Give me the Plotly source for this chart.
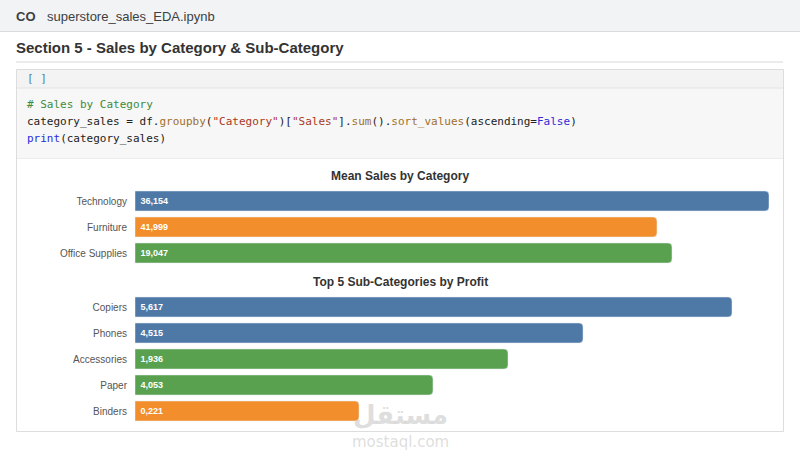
import plotly.graph_objects as go

W, H = 800, 460

# ---- data ----
categories = ["Technology", "Furniture", "Office Supplies"]
category_sales = [836154, 688400, 708200]
category_labels = ["36,154", "41,999", "19,047"]
category_colors = ["#4e79a7", "#f28e2b", "#59a14f"]

subcats = ["Copiers", "Phones", "Accessories", "Paper", "Binders"]
subcat_profit = [55617, 41740, 34750, 27760, 20870]
subcat_labels = ["5,617", "4,515", "1,936", "4,053", "0,221"]
subcat_colors = ["#4e79a7", "#4e79a7", "#59a14f", "#59a14f", "#f28e2b"]


def px(x):
    return x / W


def py(y):
    return 1 - y / H


fig = go.Figure()

fig.add_trace(go.Bar(
    x=category_sales, y=categories, orientation="h",
    marker=dict(color=category_colors, cornerradius=4),
    text=category_labels, texttemplate="&nbsp;%{text}",
    textposition="inside", insidetextanchor="start",
    textfont=dict(color="white", size=9, family="Liberation Sans, Arial", weight="bold"),
    textangle=0, xaxis="x", yaxis="y", hoverinfo="skip", showlegend=False,
))
fig.add_trace(go.Bar(
    x=subcat_profit, y=subcats, orientation="h",
    marker=dict(color=subcat_colors, cornerradius=4),
    text=subcat_labels, texttemplate="&nbsp;%{text}",
    textposition="inside", insidetextanchor="start",
    textfont=dict(color="white", size=9, family="Liberation Sans, Arial", weight="bold"),
    textangle=0, xaxis="x2", yaxis="y2", hoverinfo="skip", showlegend=False,
))

shapes = []
# top header bar
shapes.append(dict(type="rect", xref="paper", yref="paper", x0=0, x1=1, y0=py(31), y1=1,
                   fillcolor="#f1f3f4", line_width=0, layer="below"))
shapes.append(dict(type="line", xref="paper", yref="paper", x0=0, x1=1, y0=py(31.5), y1=py(31.5),
                   line=dict(color="#dadce0", width=1), layer="below"))
# section underline
shapes.append(dict(type="line", xref="paper", yref="paper", x0=px(16), x1=px(783), y0=py(62), y1=py(62),
                   line=dict(color="#ebebeb", width=2), layer="below"))
# cell header
shapes.append(dict(type="rect", xref="paper", yref="paper", x0=px(16.5), x1=px(783.5), y0=py(88), y1=py(69.5),
                   fillcolor="#f3f3f3", line_width=0, layer="below"))
# code area
shapes.append(dict(type="rect", xref="paper", yref="paper", x0=px(16.5), x1=px(783.5), y0=py(158), y1=py(88),
                   fillcolor="#f7f7f7", line_width=0, layer="below"))
shapes.append(dict(type="line", xref="paper", yref="paper", x0=px(16.5), x1=px(783.5), y0=py(88), y1=py(88),
                   line=dict(color="#e3e3e3", width=1), layer="below"))
shapes.append(dict(type="line", xref="paper", yref="paper", x0=px(16.5), x1=px(783.5), y0=py(158.5), y1=py(158.5),
                   line=dict(color="#ececec", width=1), layer="below"))
# cell border
shapes.append(dict(type="rect", xref="paper", yref="paper", x0=px(16.5), x1=px(783.5), y0=py(431.5), y1=py(69.5),
                   fillcolor="rgba(0,0,0,0)", line=dict(color="#dddddd", width=1), layer="below"))

ann = []
base = "Liberation Sans, Arial, sans-serif"
mono = "DejaVu Sans Mono, monospace"
ann.append(dict(text="<b>CO</b>", x=px(14), y=py(16), xanchor="left", yanchor="middle",
                font=dict(family=base, size=13, color="#3c4043")))
ann.append(dict(text="superstore_sales_EDA.ipynb", x=px(45), y=py(16), xanchor="left", yanchor="middle",
                font=dict(family=base, size=13, color="#3c4043")))
ann.append(dict(text="<b>Section 5 - Sales by Category &amp; Sub-Category</b>", x=px(14), y=py(48),
                xanchor="left", yanchor="middle", font=dict(family=base, size=15, color="#333333")))
ann.append(dict(text="[ ]", x=px(25), y=py(78), xanchor="left", yanchor="middle",
                font=dict(family=mono, size=11, color="#4f7fa0")))
code_lines = [
    "<span style='color:#3d8b3d'># Sales by Category</span>",
    "category_sales = df.<span style='color:#a0702a'>groupby</span>(<span style='color:#a9381e'>\"Category\"</span>)"
    "[<span style='color:#a9381e'>\"Sales\"</span>].<span style='color:#a0702a'>sum</span>()."
    "<span style='color:#a0702a'>sort_values</span>(ascending=<span style='color:#2b2bd9'>False</span>)",
    "<span style='color:#2b2bd9'>print</span>(category_sales)",
]
for i, line in enumerate(code_lines):
    ann.append(dict(text=line, x=px(25), y=py(104 + i * 17.5), xanchor="left", yanchor="middle",
                    font=dict(family=mono, size=11, color="#222222")))
ann.append(dict(text="<b>Mean Sales by Category</b>", x=px(400), y=py(176), xanchor="center", yanchor="middle",
                font=dict(family=base, size=12, color="#333333")))
ann.append(dict(text="<b>Top 5 Sub-Categories by Profit</b>", x=px(400), y=py(282), xanchor="center",
                yanchor="middle", font=dict(family=base, size=12, color="#333333")))
# watermark
ann.append(dict(text="<b>مستقل</b>", x=px(400), y=py(415), xanchor="center", yanchor="middle",
                font=dict(family="DejaVu Sans, sans-serif", size=26, color="rgba(200,200,200,0.6)")))
ann.append(dict(text="mostaql.com", x=px(400), y=py(442), xanchor="center", yanchor="middle",
                font=dict(family="DejaVu Sans, sans-serif", size=15, color="rgba(200,200,200,0.6)")))
for a in ann:
    a.update(xref="paper", yref="paper", showarrow=False)

tickfont = dict(family=base, size=10, color="#555555")
fig.update_layout(
    width=W, height=H, margin=dict(l=0, r=0, t=0, b=0),
    paper_bgcolor="white", plot_bgcolor="rgba(0,0,0,0)",
    bargap=6 / 26, shapes=shapes, annotations=ann,
    xaxis=dict(domain=[px(135), px(769)], range=[0, category_sales[0]], visible=False, fixedrange=True),
    yaxis=dict(domain=[py(266), py(188)], range=[2.5, -0.5], anchor="x", showgrid=False, zeroline=False,
               showline=False, ticks="", tickfont=tickfont, ticklabelstandoff=7),
    xaxis2=dict(domain=[px(135), px(769)], range=[0, subcat_profit[0] * 634 / 597], visible=False,
                anchor="y2", fixedrange=True),
    yaxis2=dict(domain=[py(424), py(294)], range=[4.5, -0.5], anchor="x2", showgrid=False, zeroline=False,
               showline=False, ticks="", tickfont=tickfont, ticklabelstandoff=7),
)

fig.write_html("out.html")
